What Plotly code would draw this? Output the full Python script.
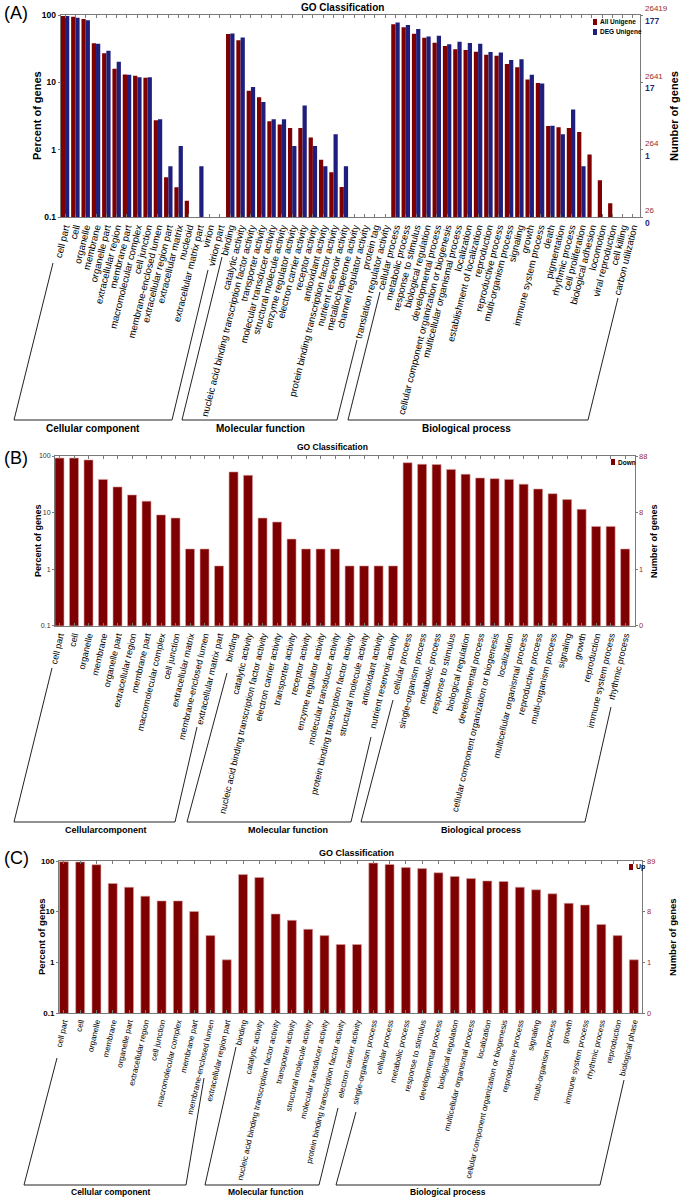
import math
import plotly.graph_objects as go

# ---------------- DATA ----------------
# Panel A : All Unigene vs DEG Unigene (percent of genes)
A_CC = ["cell part", "cell", "organelle", "membrane", "organelle part", "extracellular region",
        "membrane part", "macromolecular complex", "cell junction", "membrane-enclosed lumen",
        "extracellular region part", "extracellular matrix", "nucleoid", "extracellular matrix part",
        "virion", "virion part"]
A_CC_ALL = [97, 94, 87, 38, 27, 15.9, 13.1, 12.5, 11.7, 2.74, 0.39, 0.276, 0.175, None, None, None]
A_CC_DEG = [96.6, 91, 83.6, 37.3, 29.4, 20.3, 13.0, 11.9, 11.9, 2.82, 0.565, 1.13, None, 0.565, None, None]

A_MF = ["binding", "catalytic activity", "nucleic acid binding transcription factor activity",
        "transporter activity", "molecular transducer activity", "structural molecule activity",
        "enzyme regulator activity", "electron carrier activity", "receptor activity",
        "antioxidant activity", "protein binding transcription factor activity",
        "nutrient reservoir activity", "metallochaperone activity", "channel regulator activity",
        "protein tag", "translation regulator activity"]
A_MF_ALL = [52.2, 42.0, 7.5, 6.0, 2.65, 2.36, 2.1, 2.1, 1.51, 0.71, 0.46, 0.28, None, None, None, None]
A_MF_DEG = [53.1, 46.3, 8.5, 5.1, 2.82, 2.82, 1.13, 4.52, 1.13, 0.565, 1.69, 0.565, None, None, None, None]

A_BP = ["cellular process", "metabolic process", "response to stimulus", "biological regulation",
        "developmental process", "cellular component organization or biogenesis",
        "multicellular organismal process", "localization", "establishment of localization",
        "reproduction", "reproductive process", "multi-organism process", "signaling", "growth",
        "immune system process", "death", "pigmentation", "rhythmic process", "cell proliferation",
        "biological adhesion", "locomotion", "viral reproduction", "cell killing", "carbon utilization"]
A_BP_ALL = [72.7, 65.6, 52.7, 45.9, 38.7, 34.6, 30.9, 30.1, 28.4, 25.6, 24.8, 18.7, 16.8, 11.0, 9.8,
            2.25, 2.15, 2.1, 1.83, 0.85, 0.35, 0.16, None, None]
A_BP_DEG = [77.4, 71.2, 62.1, 48.0, 49.2, 36.7, 40.1, 38.4, 37.3, 28.2, 27.7, 21.5, 22.0, 13.0, 9.6,
            2.26, 1.69, 3.95, 0.565, None, None, None, None, None]

# Panel B : Down-regulated DEGs
B_CC = ["cell part", "cell", "organelle", "membrane", "organelle part", "extracellular region",
        "membrane part", "macromolecular complex", "cell junction", "extracellular matrix",
        "membrane-enclosed lumen", "extracellular matrix part"]
B_CC_V = [92.0, 92.0, 85.2, 38.6, 28.4, 20.5, 15.9, 9.1, 8.0, 2.27, 2.27, 1.14]
B_MF = ["binding", "catalytic activity", "nucleic acid binding transcription factor activity",
        "electron carrier activity", "transporter activity", "receptor activity",
        "enzyme regulator activity", "molecular transducer activity",
        "protein binding transcription factor activity", "structural molecule activity",
        "antioxidant activity", "nutrient reservoir activity"]
B_MF_V = [52.3, 45.5, 8.0, 6.8, 3.4, 2.27, 2.27, 2.27, 1.14, 1.14, 1.14, 1.14]
B_BP = ["cellular process", "single-organism process", "metabolic process", "response to stimulus",
        "biological regulation", "developmental process",
        "cellular component organization or biogenesis", "localization",
        "multicellular organismal process", "reproductive process", "multi-organism process",
        "signaling", "growth", "reproduction", "immune system process", "rhythmic process"]
B_BP_V = [76.1, 71.5, 70.5, 58.0, 47.7, 40.9, 39.8, 38.6, 31.8, 26.1, 21.6, 17.0, 11.4, 5.7, 5.7, 2.27]

# Panel C : Up-regulated DEGs
C_CC = ["cell part", "cell", "organelle", "membrane", "organelle part", "extracellular region",
        "cell junction", "macromolecular complex", "membrane part", "membrane-enclosed lumen",
        "extracellular region part"]
C_CC_V = [96.6, 95.5, 84.3, 36.0, 30.3, 20.2, 16.3, 16.3, 10.1, 3.37, 1.12]
C_MF = ["binding", "catalytic activity", "nucleic acid binding transcription factor activity",
        "transporter activity", "structural molecule activity", "molecular transducer activity",
        "protein binding transcription factor activity", "electron carrier activity"]
C_MF_V = [53.9, 47.2, 9.0, 6.74, 4.49, 3.37, 2.25, 2.25]
C_BP = ["single-organism process", "cellular process", "metabolic process", "response to stimulus",
        "developmental process", "biological regulation", "multicellular organismal process",
        "localization", "cellular component organization or biogenesis", "reproductive process",
        "signaling", "multi-organism process", "growth", "immune system process", "rhythmic process",
        "reproduction", "biological phase"]
C_BP_V = [91.0, 85.4, 74.2, 70.8, 58.4, 49.4, 44.9, 40.4, 39.3, 30.3, 27.0, 22.5, 14.6, 13.5, 5.6, 3.37, 1.12]

TICK_VALS = [100, 10, 1, 0.1]
LEFT_TICKS = ["100", "10", "1", "0.1"]
A_RIGHT_ALL = ["26419", "2641", "264", "26"]
A_RIGHT_DEG = ["177", "17", "1", "0"]
B_RIGHT = ["88", "8", "1", "0"]
C_RIGHT = ["89", "8", "1", "0"]
GROUPS_A = ["Cellular component", "Molecular function", "Biological process"]
GROUPS_B = ["Cellularcomponent", "Molecular function", "Biological process"]
GROUPS_C = ["Cellular component", "Molecular function", "Biological process"]
SERIES_A = ["All Unigene", "DEG Unigene"]
SERIES_B = "Down"
SERIES_C = "Up"
TITLE = "GO Classification"
Y_TITLE = "Percent of genes"
Y2_TITLE = "Number of genes"

# ---------------- STYLE / GEOMETRY ----------------
W, H = 682, 1200
RED = "#7F0000"
BLUE = "#1E1E7C"
EDGE = "#D9A3A3"
AX = "#7A7A7A"
LBL_RED = "#9A2A2A"
LBL_BLUE = "#1F2A7A"
FONT = "Liberation Sans, Arial, sans-serif"
NARROW = "Liberation Sans Narrow, Arial Narrow, Liberation Sans, Arial, sans-serif"


def px(x):
    return x / W


def py(y):
    return 1 - y / H


A_cats = A_CC + A_MF + A_BP
A_all = A_CC_ALL + A_MF_ALL + A_BP_ALL
A_deg = A_CC_DEG + A_MF_DEG + A_BP_DEG
B_cats = B_CC + B_MF + B_BP
B_vals = B_CC_V + B_MF_V + B_BP_V
C_cats = C_CC + C_MF + C_BP
C_vals = C_CC_V + C_MF_V + C_BP_V

fig = go.Figure()
fig.add_trace(go.Bar(x=A_cats, y=A_all, name=SERIES_A[0], marker=dict(color=RED, line=dict(width=0)),
                     xaxis="x", yaxis="y", showlegend=False))
fig.add_trace(go.Bar(x=A_cats, y=A_deg, name=SERIES_A[1], marker=dict(color=BLUE, line=dict(width=0)),
                     xaxis="x", yaxis="y", showlegend=False))
fig.add_trace(go.Bar(x=B_cats, y=B_vals, name=SERIES_B, width=0.62,
                     marker=dict(color=RED, line=dict(color=EDGE, width=0.6)),
                     xaxis="x2", yaxis="y2", showlegend=False))
fig.add_trace(go.Bar(x=C_cats, y=C_vals, name=SERIES_C, width=0.55,
                     marker=dict(color=RED, line=dict(color=EDGE, width=0.6)),
                     xaxis="x3", yaxis="y3", showlegend=False))

# panel geometry in pixels
PANELS = {
    "A": dict(cats=A_cats, l=60.7, r=640, t=15, b=217, xr=[-0.42, len(A_cats) - 1 + 0.68], ang=-76, xf=9.6, yf=8.5, yb=True),
    "B": dict(cats=B_cats, l=55, r=635, t=456, b=625.7, xr=[-0.31, len(B_cats) - 1 + 0.68], ang=-77, xf=9.0, yf=7, yb=False),
    "C": dict(cats=C_cats, l=59, r=642, t=861, b=1013, xr=[-0.30, len(C_cats) - 1 + 0.5], ang=-77, xf=8.0, yf=8, yb=True),
}


def xax(p, anchor):
    return dict(domain=[px(p["l"]), px(p["r"])], anchor=anchor, type="category", range=p["xr"],
                tickmode="array", tickvals=p["cats"], ticktext=p["cats"],
                tickangle=p["ang"], tickfont=dict(size=p["xf"], family=FONT, color="black"),
                showline=True, linecolor=AX, linewidth=1, mirror="ticks", ticks="inside",
                ticklen=3, tickcolor=AX, showgrid=False, zeroline=False, automargin=False)


def yax(p, anchor):
    return dict(domain=[py(p["b"]), py(p["t"])], anchor=anchor, type="log", range=[-1, 2],
                tickvals=TICK_VALS, ticktext=LEFT_TICKS,
                tickfont=dict(size=p["yf"], family=FONT, color="black" if p["yb"] else "#333333",
                              weight="bold" if p["yb"] else "normal"),
                showline=True, linecolor=AX, linewidth=1, mirror="ticks", ticks="outside",
                ticklen=2, tickcolor=AX, showgrid=False, zeroline=False, automargin=False)


fig.update_layout(
    width=W, height=H, autosize=False,
    margin=dict(l=0, r=0, t=0, b=0, pad=0),
    paper_bgcolor="white", plot_bgcolor="white",
    barmode="group", bargap=0.18, bargroupgap=0.0,
    font=dict(family=FONT, color="black"),
    xaxis=xax(PANELS["A"], "y"), yaxis=yax(PANELS["A"], "x"),
    xaxis2=xax(PANELS["B"], "y2"), yaxis2=yax(PANELS["B"], "x2"),
    xaxis3=xax(PANELS["C"], "y3"), yaxis3=yax(PANELS["C"], "x3"),
)

annotations = []
shapes = []


def ann(text, x, y, size, color="black", bold=False, angle=0, xanchor="center", yanchor="middle", family=FONT):
    annotations.append(dict(text=text, x=px(x), y=py(y), xref="paper", yref="paper", showarrow=False,
                            textangle=angle, xanchor=xanchor, yanchor=yanchor,
                            font=dict(size=size, color=color, family=family,
                                      weight="bold" if bold else "normal")))


def right_labels(labels, yref, x, color, size, shift, bold=False):
    for v, t in zip(TICK_VALS, labels):
        annotations.append(dict(text=t, x=px(x), xref="paper", y=math.log10(v), yref=yref,
                                showarrow=False, xanchor="left", yanchor="middle", yshift=shift,
                                font=dict(size=size, color=color, family=FONT,
                                          weight="bold" if bold else "normal")))


def bracket(pts):
    path = "M " + " L ".join(f"{px(x):.5f},{py(y):.5f}" for x, y in pts)
    shapes.append(dict(type="path", path=path, xref="paper", yref="paper",
                       line=dict(color="#222222", width=1)))


def swatch(x0, y0, x1, y1, color):
    shapes.append(dict(type="rect", x0=px(x0), x1=px(x1), y0=py(y1), y1=py(y0), xref="paper", yref="paper",
                       fillcolor=color, line=dict(width=0)))


# ----- Panel A decorations -----
ann("(A)", 2, 13, 18, xanchor="left")
ann(TITLE, 342, 7, 10, bold=True)
ann(Y_TITLE, 37, 116, 11, bold=True, angle=-90)
ann(Y2_TITLE, 674, 116, 11, bold=True, angle=-90)
right_labels(A_RIGHT_ALL, "y", 643, LBL_RED, 8, 6)
right_labels(A_RIGHT_DEG, "y", 643, LBL_BLUE, 8.5, -6, bold=True)
swatch(593, 19, 597, 25, RED)
swatch(593, 29, 597, 35, BLUE)
ann(SERIES_A[0], 598, 22, 6.5, bold=True, xanchor="left")
ann(SERIES_A[1], 598, 32, 6.5, bold=True, xanchor="left")
for pts in [[(53, 263), (14, 420), (172, 420), (208, 270)],
            [(222, 257), (182, 420), (337, 420), (357, 340)],
            [(380, 292), (348, 420), (588, 420), (618, 298)]]:
    bracket(pts)
for g, x in zip(GROUPS_A, [93, 260, 467]):
    ann(g, x, 428, 10, bold=True)

# ----- Panel B decorations -----
ann("(B)", 2, 458, 18, xanchor="left")
ann(TITLE, 332, 447, 8.5, bold=True, family=NARROW)
ann(Y_TITLE, 38, 541, 9, bold=True, angle=-90)
ann(Y2_TITLE, 654, 541, 9, bold=True, angle=-90)
right_labels(B_RIGHT, "y2", 637, LBL_RED, 7.5, 0)
swatch(611, 459, 615, 465, RED)
ann(SERIES_B, 616, 462, 6.5, bold=True, xanchor="left", family=NARROW)
for pts in [[(52, 668), (14, 822), (175, 822), (197, 727)],
            [(227, 673), (187, 822), (351, 822), (371, 737)],
            [(393, 700), (361, 822), (585, 822), (611, 707)]]:
    bracket(pts)
for g, x in zip(GROUPS_B, [106, 288, 481]):
    ann(g, x, 830, 9, bold=True, family=NARROW)

# ----- Panel C decorations -----
ann("(C)", 2, 858, 18, xanchor="left")
ann(TITLE, 356, 853, 9, bold=True, family=NARROW)
ann(Y_TITLE, 41, 937, 9.5, bold=True, angle=-90)
ann(Y2_TITLE, 672, 937, 9.5, bold=True, angle=-90)
right_labels(C_RIGHT, "y3", 645, LBL_RED, 7.5, 0)
swatch(629, 864, 633, 870, RED)
ann(SERIES_C, 634, 867, 7, bold=True, xanchor="left", family=NARROW)
for pts in [[(57, 1058), (24, 1185), (186, 1185), (204, 1078)],
            [(236, 1047), (205, 1185), (319, 1185), (338, 1108)],
            [(356, 1112), (336, 1185), (600, 1185), (624, 1080)]]:
    bracket(pts)
for g, x in zip(GROUPS_C, [111, 266, 448]):
    ann(g, x, 1192, 8.5, bold=True, family=NARROW)

fig.update_layout(annotations=annotations, shapes=shapes)
fig.write_html("out.html", config={"displayModeBar": False},
               post_script="document.body.style.margin='0px';")
